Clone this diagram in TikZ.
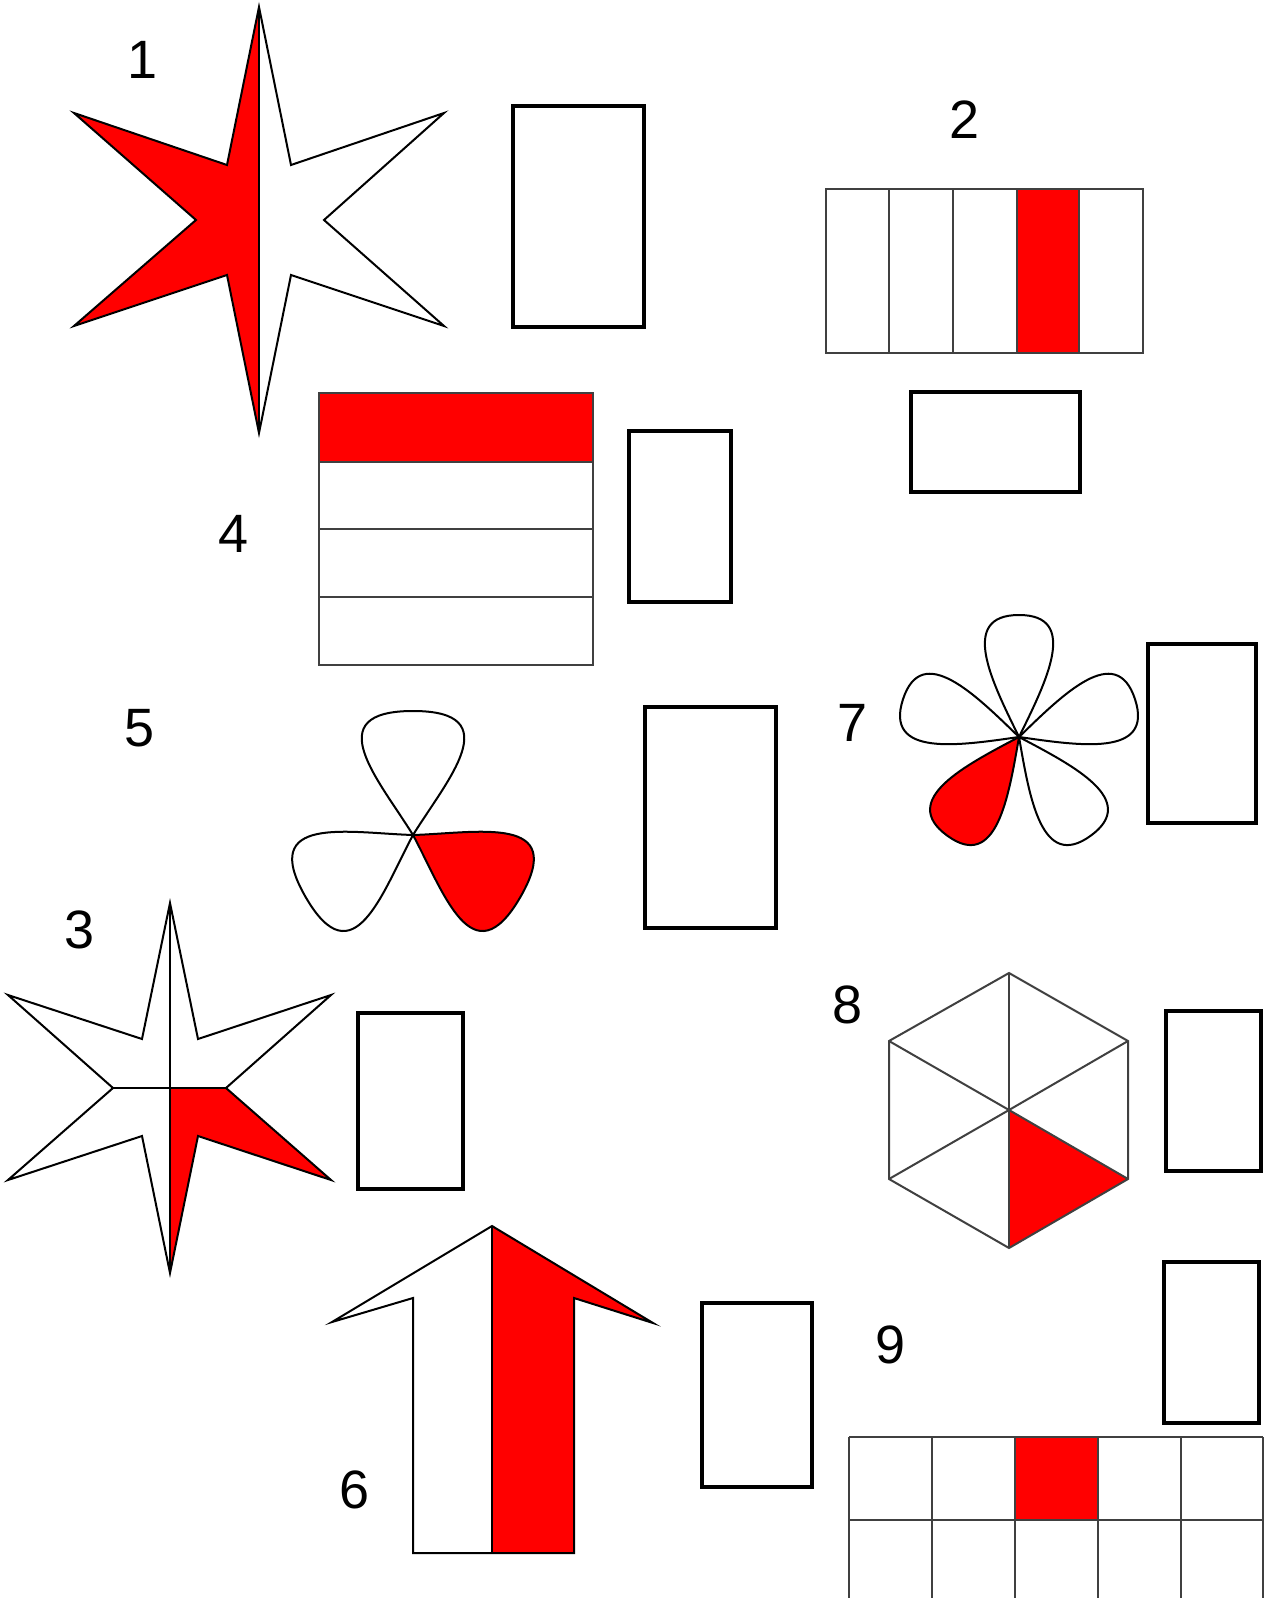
\documentclass[tikz,border=0pt]{standalone}
\usepackage{fontspec}
\setmainfont{Liberation Sans}
\definecolor{pred}{RGB}{255,0,0}
\begin{document}
\begin{tikzpicture}[x=0.5pt,y=-0.5pt,
  outline/.style={draw=black, line width=1pt, line join=miter},
  cellline/.style={draw=black!75, line width=1pt},
  ansbox/.style={draw=black, line width=1.8pt},
  redfill/.style={fill=pred},
  lbl/.style={font=\fontsize{27}{30}\selectfont, inner sep=0pt}]
\useasboundingbox (0,0) rectangle (1266,1598);
\fill[white] (0,0) rectangle (1266,1598);

% ---------- Figure 1: six-pointed star ----------
\coordinate (s1T) at (259,7);
\coordinate (s1B) at (259,433);
\coordinate (s1ULt) at (74,113);
\coordinate (s1LLt) at (74,326);
\coordinate (s1URt) at (444,113);
\coordinate (s1LRt) at (444,326);
\coordinate (s1ULi) at (227,165);
\coordinate (s1Li) at (196,220);
\coordinate (s1LLi) at (227,275);
\coordinate (s1URi) at (291,165);
\coordinate (s1Ri) at (324,220);
\coordinate (s1LRi) at (291,275);
\fill[redfill] (s1T) -- (s1ULi) -- (s1ULt) -- (s1Li) -- (s1LLt) -- (s1LLi) -- (s1B) -- cycle;
\draw[outline] (s1T) -- (s1URi) -- (s1URt) -- (s1Ri) -- (s1LRt) -- (s1LRi) -- (s1B)
  -- (s1LLi) -- (s1LLt) -- (s1Li) -- (s1ULt) -- (s1ULi) -- cycle;
\draw[outline] (s1T) -- (s1B);
\node[lbl] (l1) at (143,60) {1};
\draw[ansbox] (513,106) rectangle (644,327);

% ---------- Figure 2: five strips ----------
\fill[redfill] (1017,189) rectangle (1079,353);
\draw[cellline] (826,189) rectangle (1143,353);
\foreach \xx in {889,953,1017,1079} \draw[cellline] (\xx,189) -- (\xx,353);
\node[lbl] (l2) at (964,120) {2};
\draw[ansbox] (911,392) rectangle (1080,492);

% ---------- Figure 4: four rows ----------
\fill[redfill] (319,393) rectangle (593,462);
\draw[cellline] (319,393) rectangle (593,665);
\foreach \yy in {462,529,597} \draw[cellline] (319,\yy) -- (593,\yy);
\node[lbl] (l4) at (234,534) {4};
\draw[ansbox] (629,431) rectangle (731,602);

% ---------- Figure 5: three petals ----------
\node[lbl] (l5) at (140,728) {5};
\foreach \ang/\col in {90/white,210/white,330/pred} {
  \begin{scope}[shift={(413,835)}, rotate=\ang]
    \filldraw[outline, fill=\col] (0,0) .. controls (55,-34) and (124,-96) .. (124,0)
      .. controls (124,96) and (55,34) .. (0,0);
  \end{scope}
}
\draw[ansbox] (645,707) rectangle (776,928);

% ---------- Figure 7: five petals ----------
\node[lbl] (l7) at (852,723) {7};
\foreach \ang/\col in {90/white,162/white,234/pred,306/white,18/white} {
  \begin{scope}[shift={(1019,737)}, rotate=\ang]
    \filldraw[outline, fill=\col] (0,0) .. controls (55,-27) and (122,-61) .. (122,0)
      .. controls (122,61) and (55,27) .. (0,0);
  \end{scope}
}
\draw[ansbox] (1148,644) rectangle (1256,823);

% ---------- Figure 3: star with quarters ----------
\coordinate (s3T) at (170,903);
\coordinate (s3B) at (170,1273);
\coordinate (s3ULt) at (8,995);
\coordinate (s3LLt) at (8,1180);
\coordinate (s3URt) at (331,995);
\coordinate (s3LRt) at (331,1180);
\coordinate (s3ULi) at (142,1039);
\coordinate (s3Li) at (113,1088);
\coordinate (s3LLi) at (142,1136);
\coordinate (s3URi) at (198,1039);
\coordinate (s3Ri) at (226,1088);
\coordinate (s3LRi) at (198,1136);
\coordinate (s3C) at (170,1088);
\fill[redfill] (s3C) -- (s3Ri) -- (s3LRt) -- (s3LRi) -- (s3B) -- cycle;
\draw[outline] (s3T) -- (s3URi) -- (s3URt) -- (s3Ri) -- (s3LRt) -- (s3LRi) -- (s3B)
  -- (s3LLi) -- (s3LLt) -- (s3Li) -- (s3ULt) -- (s3ULi) -- cycle;
\draw[outline] (s3T) -- (s3B);
\draw[outline] (s3Li) -- (s3Ri);
\node[lbl] (l3) at (80,930) {3};
\draw[ansbox] (358,1013) rectangle (463,1189);

% ---------- Figure 6: arrow ----------
\coordinate (aA) at (492,1226);
\coordinate (aRt) at (653,1323);
\coordinate (aRi) at (574,1298);
\coordinate (aRb) at (574,1553);
\coordinate (aMb) at (492,1553);
\coordinate (aLb) at (413,1553);
\coordinate (aLi) at (413,1298);
\coordinate (aLt) at (332,1322);
\fill[redfill] (aA) -- (aRt) -- (aRi) -- (aRb) -- (aMb) -- cycle;
\draw[outline] (aA) -- (aRt) -- (aRi) -- (aRb) -- (aLb) -- (aLi) -- (aLt) -- cycle;
\draw[outline] (aA) -- (aMb);
\node[lbl] (l6) at (355,1490) {6};
\draw[ansbox] (702,1303) rectangle (812,1487);

% ---------- Figure 8: hexagon ----------
\coordinate (hC) at (1009,1110);
\coordinate (h1) at (1009,973);
\coordinate (h2) at (1128,1041);
\coordinate (h3) at (1128,1179);
\coordinate (h4) at (1009,1248);
\coordinate (h5) at (889,1179);
\coordinate (h6) at (889,1041);
\fill[redfill] (hC) -- (h3) -- (h4) -- cycle;
\draw[cellline] (h1) -- (h2) -- (h3) -- (h4) -- (h5) -- (h6) -- cycle;
\foreach \p in {h1,h2,h3,h4,h5,h6} \draw[cellline] (hC) -- (\p);
\node[lbl] (l8) at (848,1005) {8};
\draw[ansbox] (1166,1011) rectangle (1261,1171);

% ---------- Figure 9: grid ----------
\node[lbl] (l9) at (890,1345) {9};
\draw[ansbox] (1164,1262) rectangle (1259,1423);
\begin{scope}
  \clip (0,0) rectangle (1266,1598);
  \fill[redfill] (1015,1437) rectangle (1098,1520);
  \foreach \yy in {1437,1520} \draw[cellline] (849,\yy) -- (1263,\yy);
  \foreach \xx in {849,932,1015,1098,1181,1263} \draw[cellline] (\xx,1437) -- (\xx,1610);
\end{scope}
\end{tikzpicture}
\end{document}
